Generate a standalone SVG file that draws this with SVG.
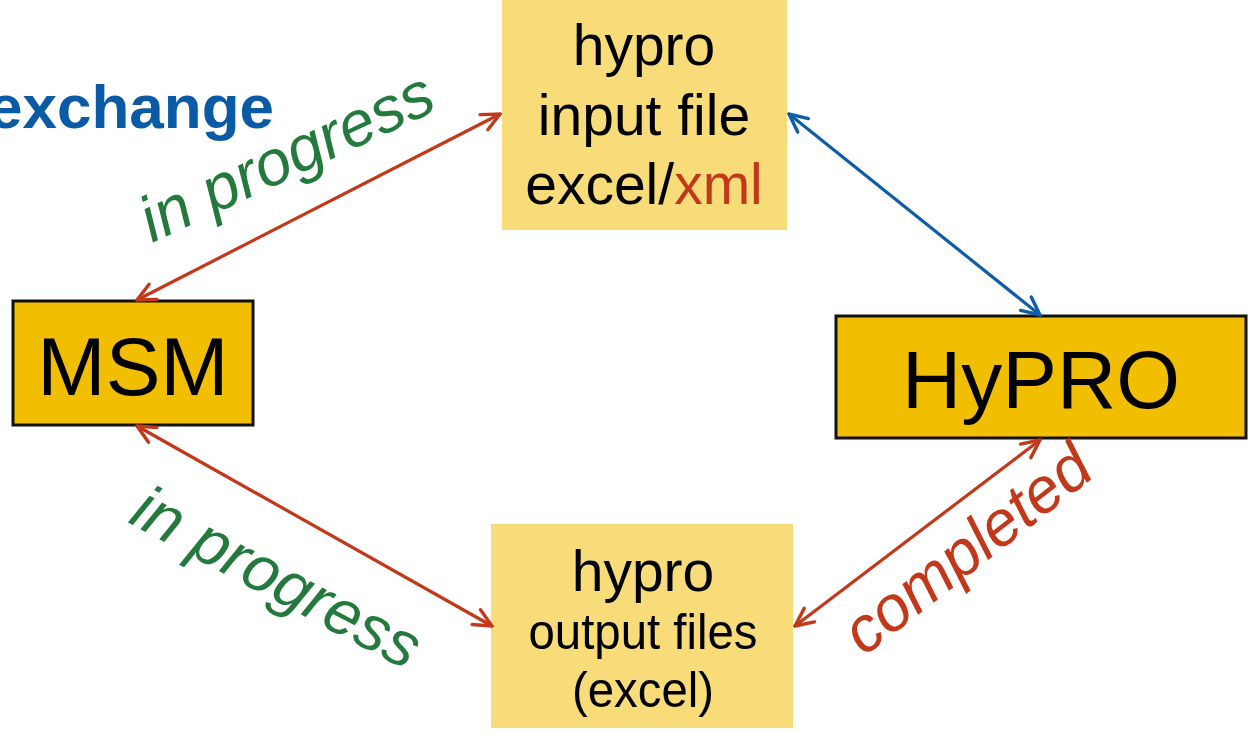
<svg xmlns="http://www.w3.org/2000/svg" width="1249" height="735" viewBox="0 0 1249 735">
<style>
.t{font-family:"Liberation Sans",Arial,sans-serif;fill:#000}
.pale{fill:#F7DC79}
.gold{fill:#F2BE00;stroke:#111;stroke-width:3}
.lbl{font-family:"Liberation Sans",Arial,sans-serif;font-style:italic;font-size:64px}
.red{stroke:#C3381A;stroke-width:3.2;fill:none}
.blue{stroke:#0D5EA6;stroke-width:3.2;fill:none}
</style>
<defs>
<marker id="ar" viewBox="0 0 22 22" refX="20" refY="11" markerWidth="22" markerHeight="22" markerUnits="userSpaceOnUse" orient="auto-start-reverse">
<path d="M2,2.5 L20,11 L2,19.5" fill="none" stroke="#C3381A" stroke-width="3.4" stroke-linecap="round" stroke-linejoin="miter"/>
</marker>
<marker id="ab" viewBox="0 0 22 22" refX="20" refY="11" markerWidth="22" markerHeight="22" markerUnits="userSpaceOnUse" orient="auto-start-reverse">
<path d="M2,2.5 L20,11 L2,19.5" fill="none" stroke="#0D5EA6" stroke-width="3.4" stroke-linecap="round" stroke-linejoin="miter"/>
</marker>
</defs>
<rect width="1249" height="735" fill="#fff"/>
<text x="274" y="128" text-anchor="end" style="font-family:'Liberation Sans',Arial,sans-serif;font-weight:bold;font-size:62px;fill:#0B5AA6">exchange</text>
<g id="input-file">
<rect class="pale" x="502" y="-5" width="285" height="235"/>
<text class="t" font-size="57" text-anchor="middle" x="644" y="65">hypro</text>
<text class="t" font-size="57" text-anchor="middle" x="644" y="135">input file</text>
<text class="t" font-size="57" text-anchor="middle" x="644" y="204">excel/<tspan fill="#C3381A">xml</tspan></text>
</g>
<g id="output-files">
<rect class="pale" x="491" y="524" width="302" height="204"/>
<text class="t" font-size="57" text-anchor="middle" x="643" y="591">hypro</text>
<text class="t" font-size="50" text-anchor="middle" x="643" y="649" textLength="229" lengthAdjust="spacingAndGlyphs">output files</text>
<text class="t" font-size="50" text-anchor="middle" x="643" y="707" textLength="142" lengthAdjust="spacingAndGlyphs">(excel)</text>
</g>
<g id="msm">
<rect class="gold" x="13" y="301" width="240" height="124"/>
<text class="t" font-size="82" text-anchor="middle" x="133" y="395">MSM</text>
</g>
<g id="hypro">
<rect class="gold" x="836" y="316" width="410" height="122"/>
<text class="t" font-size="82" text-anchor="middle" x="1041" y="408">HyPRO</text>
</g>
<g id="connectors">
<line class="red" x1="137" y1="300" x2="500" y2="114" marker-start="url(#ar)" marker-end="url(#ar)"/>
<line class="red" x1="137" y1="426" x2="492" y2="626" marker-start="url(#ar)" marker-end="url(#ar)"/>
<line class="blue" x1="789" y1="114" x2="1040" y2="315" marker-start="url(#ab)" marker-end="url(#ab)"/>
<line class="red" x1="1040" y1="440" x2="795" y2="626" marker-start="url(#ar)" marker-end="url(#ar)"/>
</g>
<g id="labels">
<text class="lbl" fill="#24793D" transform="translate(152,243) rotate(-25)">in progress</text>
<text class="lbl" fill="#24793D" transform="translate(127,522) rotate(28)">in progress</text>
<text class="lbl" fill="#C3381A" transform="translate(864,657) rotate(-38)">completed</text>
</g>
</svg>
